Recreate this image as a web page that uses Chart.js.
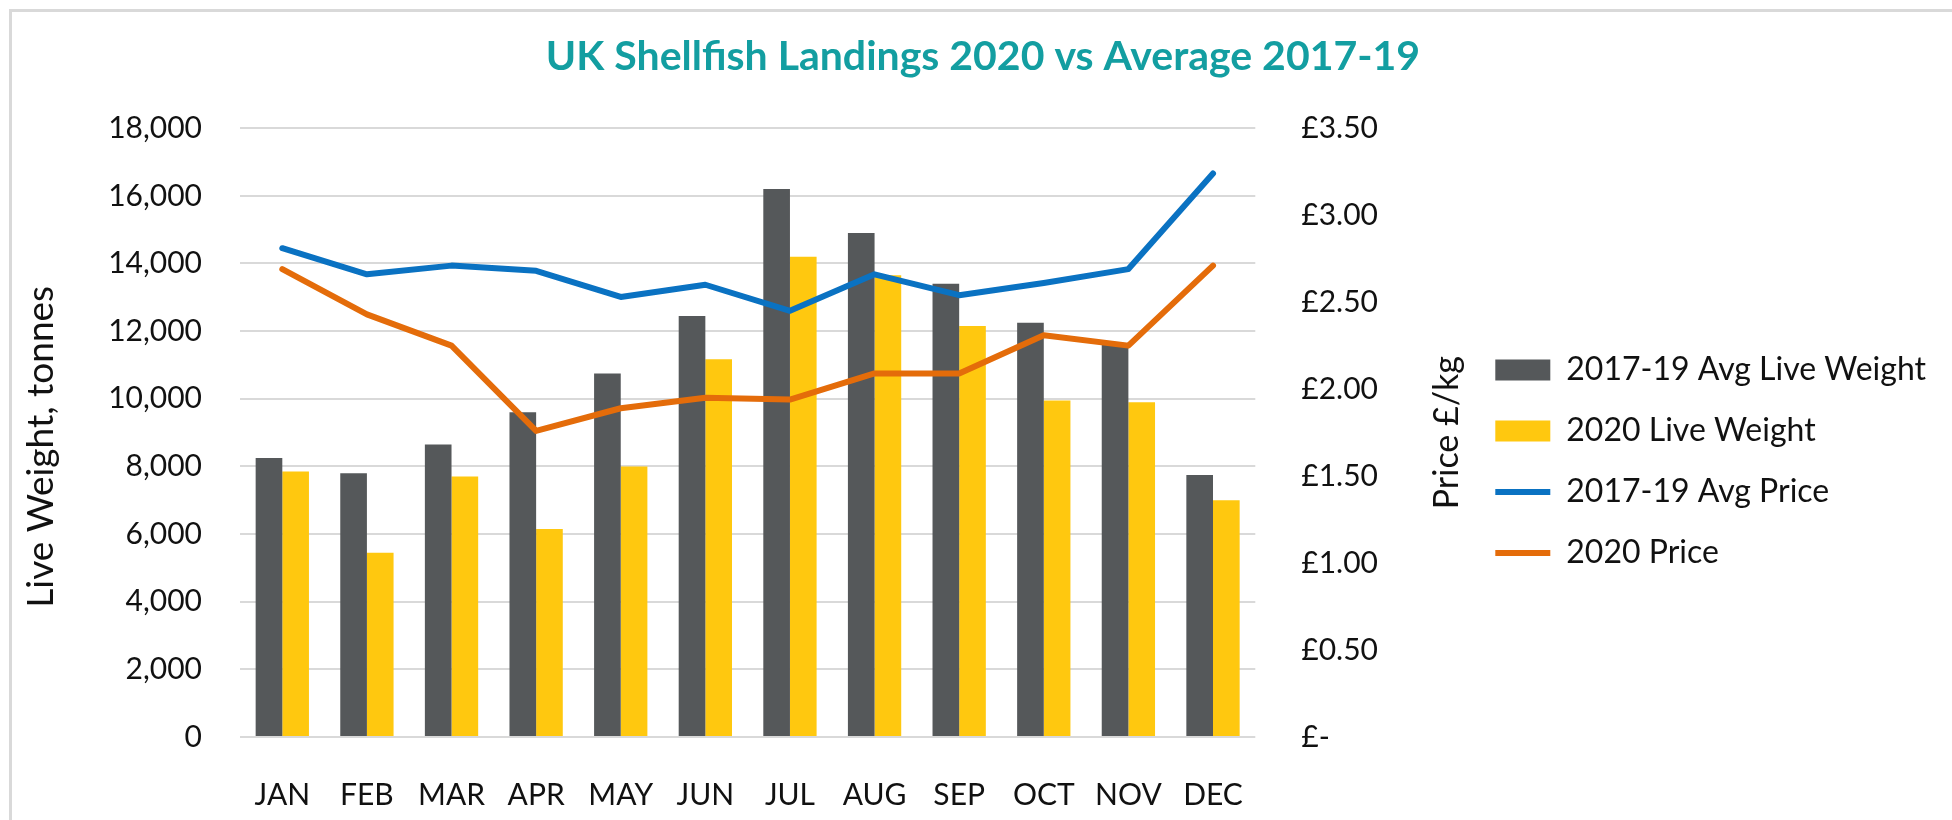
<!DOCTYPE html>
<html>
<head>
<meta charset="utf-8">
<title>UK Shellfish Landings 2020 vs Average 2017-19</title>
<script src="https://cdn.jsdelivr.net/npm/chart.js@4/dist/chart.umd.min.js"></script>
<style>
  html, body { margin: 0; padding: 0; background: #fff; overflow: hidden; }
  #wrap { position: relative; width: 1952px; height: 820px; }
  #frame {
    position: absolute; left: 9px; top: 9px; width: 2000px; height: 900px;
    border: 3px solid #d9d9d9; pointer-events: none;
  }
  canvas { position: absolute; left: 0; top: 0; }
</style>
</head>
<body>
<div id="wrap">
  <canvas id="landingsChart" width="1952" height="820"></canvas>
  <div id="frame"></div>
</div>
<script>
// Podaci
const months = ['JAN', 'FEB', 'MAR', 'APR', 'MAY', 'JUN', 'JUL', 'AUG', 'SEP', 'OCT', 'NOV', 'DEC'];
const avgWeight = [8250, 7800, 8650, 9600, 10750, 12450, 16200, 14900, 13400, 12250, 11600, 7750];
const weight2020 = [7850, 5450, 7700, 6150, 8000, 11170, 14200, 13650, 12150, 9950, 9900, 7000];
const avgPrice = [2.81, 2.66, 2.71, 2.68, 2.53, 2.60, 2.45, 2.66, 2.54, 2.61, 2.69, 3.24];
const price2020 = [2.69, 2.43, 2.25, 1.76, 1.89, 1.95, 1.94, 2.09, 2.09, 2.31, 2.25, 2.71];

const FONT = 'Lato, "Open Sans", sans-serif';
const TEXT = '#111';

// right axis title reads bottom-to-top, so draw it ourselves
const priceTitle = {
  id: 'priceTitle',
  afterDraw(chart) {
    const { ctx, chartArea } = chart;
    const y1 = chart.scales.y1;
    ctx.save();
    ctx.translate(y1.left + 192, (chartArea.top + chartArea.bottom) / 2);
    ctx.rotate(-Math.PI / 2);
    ctx.font = '34px ' + FONT;
    ctx.fillStyle = TEXT;
    ctx.textAlign = 'center';
    ctx.textBaseline = 'middle';
    ctx.fillText('Price £/kg', 0, 0);
    ctx.restore();
  }
};

const ctx = document.getElementById('landingsChart').getContext('2d');

new Chart(ctx, {
  type: 'bar',
  data: {
    labels: months,
    datasets: [
      {
        label: '2017-19 Avg Live Weight',
        data: avgWeight,
        backgroundColor: '#55585a',
        yAxisID: 'y',
        order: 1,
        pointStyle: 'rect'
      },
      {
        label: '2020 Live Weight',
        data: weight2020,
        backgroundColor: '#ffc80f',
        yAxisID: 'y',
        order: 1,
        pointStyle: 'rect'
      },
      {
        type: 'line',
        label: '2017-19 Avg Price',
        data: avgPrice,
        borderColor: '#0a72c2',
        backgroundColor: '#0a72c2',
        borderWidth: 6,
        borderCapStyle: 'round',
        borderJoinStyle: 'round',
        pointRadius: 0,
        tension: 0,
        yAxisID: 'y1',
        order: 0,
        pointStyle: 'line'
      },
      {
        type: 'line',
        label: '2020 Price',
        data: price2020,
        borderColor: '#e46c0a',
        backgroundColor: '#e46c0a',
        borderWidth: 6,
        borderCapStyle: 'round',
        borderJoinStyle: 'round',
        pointRadius: 0,
        tension: 0,
        yAxisID: 'y1',
        order: 0,
        pointStyle: 'line'
      }
    ]
  },
  options: {
    responsive: false,
    animation: false,
    devicePixelRatio: 1,
    layout: { padding: { left: 0, right: 16, top: 0, bottom: 0 } },
    datasets: {
      bar: { categoryPercentage: 0.63, barPercentage: 1.0 }
    },
    scales: {
      x: {
        grid: { display: false },
        border: { display: false },
        ticks: { color: TEXT, font: { family: FONT, size: 30 }, padding: 32, maxRotation: 0 },
        afterFit: (s) => { s.height = 83; }
      },
      y: {
        position: 'left',
        min: 0,
        max: 18000,
        ticks: {
          stepSize: 2000,
          color: TEXT,
          font: { family: FONT, size: 30 },
          padding: 38,
          callback: (v) => v.toLocaleString('en-GB')
        },
        grid: { color: '#d9d9d9', lineWidth: 2, drawTicks: false },
        border: { display: false },
        title: {
          display: true,
          text: 'Live Weight, tonnes   ',
          color: TEXT,
          font: { family: FONT, size: 37 },
          padding: { top: 19, bottom: 0 }
        },
        afterFit: (s) => { s.width = 240; }
      },
      y1: {
        position: 'right',
        min: 0,
        max: 3.5,
        ticks: {
          stepSize: 0.5,
          color: TEXT,
          font: { family: FONT, size: 30 },
          padding: 46,
          callback: (v) => v === 0 ? '£-' : '£' + v.toFixed(2)
        },
        grid: { display: false, drawTicks: false },
        border: { display: false },
        afterFit: (s) => { s.width = 211; }
      }
    },
    plugins: {
      title: {
        display: true,
        text: '   UK Shellfish Landings 2020 vs Average 2017-19',
        color: '#139ea1',
        font: { family: FONT, size: 41, weight: 'bold' },
        padding: { top: 32, bottom: 47 }
      },
      legend: {
        position: 'right',
        fullSize: false,
        maxWidth: 700,
        title: { display: true, text: ' ', font: { size: 10 }, padding: { top: 23, bottom: 23 } },
        labels: {
          color: TEXT,
          font: { family: FONT, size: 32 },
          usePointStyle: true,
          pointStyleWidth: 55,
          boxHeight: 21,
          padding: 29,
          sort: (a, b) => a.datasetIndex - b.datasetIndex
        }
      },
      tooltip: { enabled: false }
    }
  },
  plugins: [priceTitle]
});
</script>
</body>
</html>
